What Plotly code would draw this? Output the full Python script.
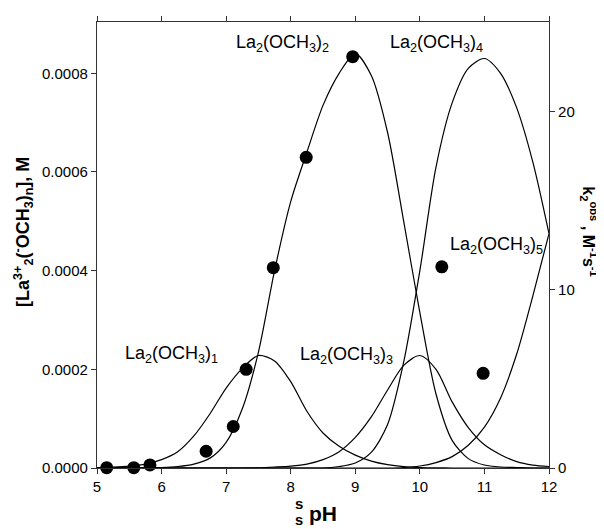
import plotly.graph_objects as go
import numpy as np

# pH grid for species curves
PH = [5.0, 5.25, 5.5, 5.75, 6.0, 6.25, 6.5, 6.75, 7.0, 7.25, 7.5, 7.75, 8.0, 8.25,
      8.5, 8.75, 9.0, 9.25, 9.5, 9.75, 10.0, 10.25, 10.5, 10.75, 11.0, 11.25, 11.5, 11.75, 12.0]

# species concentrations in units of 1e-4 M
N1 = [0.01, 0.02, 0.04, 0.08, 0.17, 0.33, 0.65, 1.1, 1.62, 2.02, 2.28, 2.17, 1.75, 1.15,
      0.71, 0.44, 0.26, 0.14, 0.067, 0.027, 0.01, 0.004, 0, 0, 0, 0, 0, 0, 0]
N2 = [0, 0, 0.002, 0.005, 0.01, 0.03, 0.08, 0.2, 0.52, 1.2, 2.35, 4.0, 5.4, 6.4,
      7.35, 8.0, 8.4, 7.95, 6.8, 5.0, 3.15, 1.5, 0.56, 0.19, 0.06, 0.02, 0.01, 0, 0]
N3 = [0, 0, 0, 0, 0, 0, 0, 0, 0, 0, 0.005, 0.02, 0.04, 0.08,
      0.17, 0.33, 0.62, 1.04, 1.58, 2.08, 2.28, 2.0, 1.34, 0.82, 0.47, 0.27, 0.13, 0.06, 0.03]
N4 = [0, 0, 0, 0, 0, 0, 0, 0, 0, 0, 0, 0, 0, 0,
      0, 0.03, 0.1, 0.32, 0.88, 2.15, 4.0, 6.1, 7.4, 8.1, 8.3, 8.0, 7.3, 6.2, 4.75]
N5 = [0, 0, 0, 0, 0, 0, 0, 0, 0, 0, 0, 0, 0, 0,
      0, 0, 0, 0, 0, 0.01, 0.04, 0.11, 0.23, 0.46, 0.83, 1.42, 2.31, 3.49, 4.75]

# observed rate constants k2obs (M^-1 s^-1) vs pH
K_PH = [5.15, 5.57, 5.82, 6.69, 7.11, 7.31, 7.73, 8.24, 8.96, 10.34, 10.98]
K_OBS = [0.02, 0.02, 0.17, 0.94, 2.33, 5.54, 11.25, 17.45, 23.1, 11.3, 5.32]

# species labels
LABELS = ["La<sub>2</sub>(OCH<sub>3</sub>)<sub>1</sub>",
          "La<sub>2</sub>(OCH<sub>3</sub>)<sub>2</sub>",
          "La<sub>2</sub>(OCH<sub>3</sub>)<sub>3</sub>",
          "La<sub>2</sub>(OCH<sub>3</sub>)<sub>4</sub>",
          "La<sub>2</sub>(OCH<sub>3</sub>)<sub>5</sub>"]
LABEL_X = [6.15, 7.88, 8.87, 10.25, 11.19]
LABEL_Y = [2.31, 8.6, 2.29, 8.6, 4.51]

FONT = "Liberation Sans, Arial, sans-serif"

fig = go.Figure()
for n in (N1, N2, N3, N4, N5):
    fig.add_trace(go.Scatter(x=PH, y=np.array(n) * 1e-4, mode="lines",
                             line=dict(color="black", width=1.2, shape="spline", smoothing=0.8),
                             showlegend=False, hoverinfo="skip"))

fig.add_trace(go.Scatter(x=K_PH, y=K_OBS, mode="markers", yaxis="y2",
                         marker=dict(color="black", size=13), cliponaxis=False,
                         showlegend=False))

annotations = []
for t, x, y in zip(LABELS, LABEL_X, LABEL_Y):
    annotations.append(dict(x=x, y=y * 1e-4, xref="x", yref="y", text=t, showarrow=False,
                            xanchor="center", yanchor="middle",
                            font=dict(family=FONT, size=18, color="black")))

def paper_note(text, x, y, size, angle=0):
    return dict(x=x, y=y, xref="paper", yref="paper", text=text, showarrow=False,
                textangle=angle, xanchor="center", yanchor="middle", borderpad=0,
                font=dict(family=FONT, size=size, color="black"))

annotations += [
    paper_note("<b>[La<sup>3+</sup><sub>2</sub>(<sup>-</sup>OCH<sub>3</sub>)<sub>n</sub>], M</b>",
               -0.164, 0.529, 18, -90),
    paper_note("<b>k<sub>2</sub><sup>obs</sup> , M<sup>-1</sup>s<sup>-1</sup></b>",
               1.088, 0.529, 16, 90),
    paper_note("<b>s</b>", 0.447, -0.0786, 15),
    paper_note("<b><sub>s</sub> pH</b>", 0.4845, -0.106, 21),
]

axis_common = dict(showline=True, linecolor="#333", linewidth=1.2, ticks="outside",
                   ticklen=5, tickcolor="#333", showgrid=False, zeroline=False,
                   tickfont=dict(family=FONT, size=15, color="black"))

fig.update_layout(
    width=604, height=529,
    margin=dict(l=89, r=63, t=8, b=69),
    paper_bgcolor="white", plot_bgcolor="white",
    xaxis=dict(range=[5, 12], tickmode="array", tickvals=[5, 6, 7, 8, 9, 10, 11, 12],
               mirror="ticks", **axis_common),
    yaxis=dict(range=[0, 0.000904], tickmode="array",
               tickvals=[0, 0.0002, 0.0004, 0.0006, 0.0008], tickformat=".4f", **axis_common),
    yaxis2=dict(range=[0, 25.05], overlaying="y", side="right", tickmode="array",
                tickvals=[0, 10, 20], **axis_common),
    annotations=annotations,
)

fig.write_html("out.html")
